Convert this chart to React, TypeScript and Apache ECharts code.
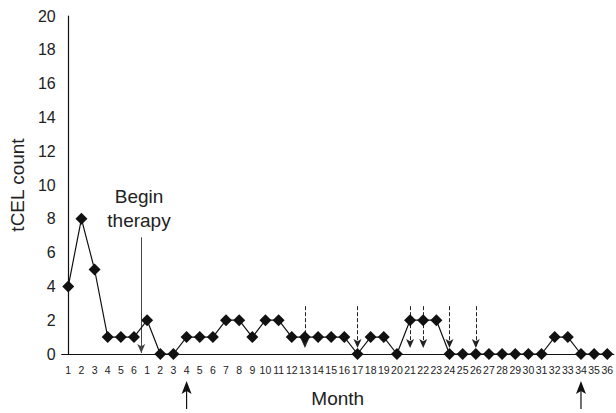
import React, { useEffect, useRef } from 'react';
import * as echarts from 'echarts';

// Category labels: six pre-therapy months, then 36 months on therapy
const preTherapyMonths = ['1', '2', '3', '4', '5', '6'];
const therapyMonths = [
  '1', '2', '3', '4', '5', '6', '7', '8', '9', '10', '11', '12',
  '13', '14', '15', '16', '17', '18', '19', '20', '21', '22', '23', '24',
  '25', '26', '27', '28', '29', '30', '31', '32', '33', '34', '35', '36',
];
const preTherapyCounts = [4, 8, 5, 1, 1, 1];
const therapyCounts = [
  2, 0, 0, 1, 1, 1, 2, 2, 1, 2, 2, 1,
  1, 1, 1, 1, 0, 1, 1, 0, 2, 2, 2, 0,
  0, 0, 0, 0, 0, 0, 0, 1, 1, 0, 0, 0,
];
const yTicks = [0, 2, 4, 6, 8, 10, 12, 14, 16, 18, 20];
// therapy months marked with dashed arrows, and with upward arrows below axis
const dashedArrowMonths = [13, 17, 21, 22, 24, 26];
const upArrowMonths = [4, 34];

const categories = [...preTherapyMonths, ...therapyMonths];
const counts = [...preTherapyCounts, ...therapyCounts];
const monthIndex = (m: number) => preTherapyMonths.length + m - 1;

export default function App() {
  const ref = useRef<HTMLDivElement>(null);
  useEffect(() => {
    if (!ref.current) return;
    const chart = echarts.init(ref.current, null, { renderer: 'svg' });
    const font = 'Liberation Sans, Arial, Helvetica, sans-serif';
    const beginX = preTherapyMonths.length - 0.45;
    chart.setOption({
      animation: false,
      backgroundColor: '#ffffff',
      grid: { left: 55, right: 0, top: 16, bottom: 58, containLabel: false },
      xAxis: [
        {
          type: 'category',
          data: categories,
          boundaryGap: true,
          axisLine: { show: true, lineStyle: { color: '#111', width: 1.2 } },
          axisTick: { show: false },
          axisLabel: {
            interval: 0,
            margin: 10,
            color: '#222',
            fontSize: 10.5,
            fontFamily: 'Liberation Sans Narrow, Liberation Sans, Arial, sans-serif',
          },
          name: 'Month',
          nameLocation: 'middle',
          nameGap: 35,
          nameTextStyle: { fontSize: 19, color: '#222', fontFamily: font },
        },
        {
          type: 'value',
          min: -0.5,
          max: categories.length - 0.5,
          show: false,
        },
      ],
      yAxis: {
        type: 'value',
        min: yTicks[0],
        max: yTicks[yTicks.length - 1],
        interval: 2,
        axisLine: { show: true, lineStyle: { color: '#111', width: 1.2 } },
        axisTick: { show: false },
        splitLine: { show: false },
        axisLabel: { color: '#222', fontSize: 16, margin: 6, fontFamily: font },
        name: 'tCEL count',
        nameLocation: 'middle',
        nameGap: 28,
        nameTextStyle: { fontSize: 19, color: '#222', fontFamily: font },
      },
      series: [
        {
          type: 'line',
          data: counts,
          xAxisIndex: 0,
          symbol: 'diamond',
          symbolSize: 12,
          itemStyle: { color: '#111' },
          lineStyle: { color: '#111', width: 1.2 },
          z: 5,
        },
        {
          type: 'scatter',
          xAxisIndex: 1,
          data: [],
          clip: false,
          markLine: {
            silent: true,
            animation: false,
            symbol: ['none', 'arrow'],
            symbolSize: [6, 9],
            label: { show: false },
            lineStyle: { color: '#222', width: 1, type: 'dashed' },
            data: [
              ...dashedArrowMonths.map((m) => [
                { coord: [monthIndex(m), 2.83] },
                { coord: [monthIndex(m), 0.35] },
              ]),
              [
                { coord: [beginX, 6.9], lineStyle: { type: 'solid', color: '#444' } },
                { coord: [beginX, 0.06] },
              ],
            ],
          },
        },
      ],
    });

    // Upward arrows below the x axis, positioned from the category scale
    const arrowGraphics: any[] = [];
    upArrowMonths.forEach((m, i) => {
      const p = chart.convertToPixel({ xAxisIndex: 0, yAxisIndex: 0 }, [monthIndex(m), 0]) as number[];
      const x = p[0];
      const axisY = p[1];
      const tipY = axisY + 27;
      arrowGraphics.push({
        type: 'line',
        id: 'upLine' + i,
        shape: { x1: x, y1: tipY + 9, x2: x, y2: tipY + 28 },
        style: { stroke: '#111', lineWidth: 1.2 },
      });
      arrowGraphics.push({
        type: 'polygon',
        id: 'upHead' + i,
        shape: {
          points: [
            [x, tipY],
            [x - 5, tipY + 13],
            [x, tipY + 10],
            [x + 5, tipY + 13],
          ],
        },
        style: { fill: '#111' },
      });
    });

    chart.setOption({
      graphic: [
        {
          type: 'text',
          id: 'beginText',
          x: 139,
          y: 208,
          style: {
            text: 'Begin\ntherapy',
            textAlign: 'center',
            textVerticalAlign: 'middle',
            font: '19px ' + font,
            lineHeight: 24,
            fill: '#222',
          },
        },
        ...arrowGraphics,
      ],
    });
    return () => chart.dispose();
  }, []);
  return (
    <div
      ref={ref}
      style={{ position: 'fixed', left: 0, top: 0, width: 616, height: 413 }}
    />
  );
}
